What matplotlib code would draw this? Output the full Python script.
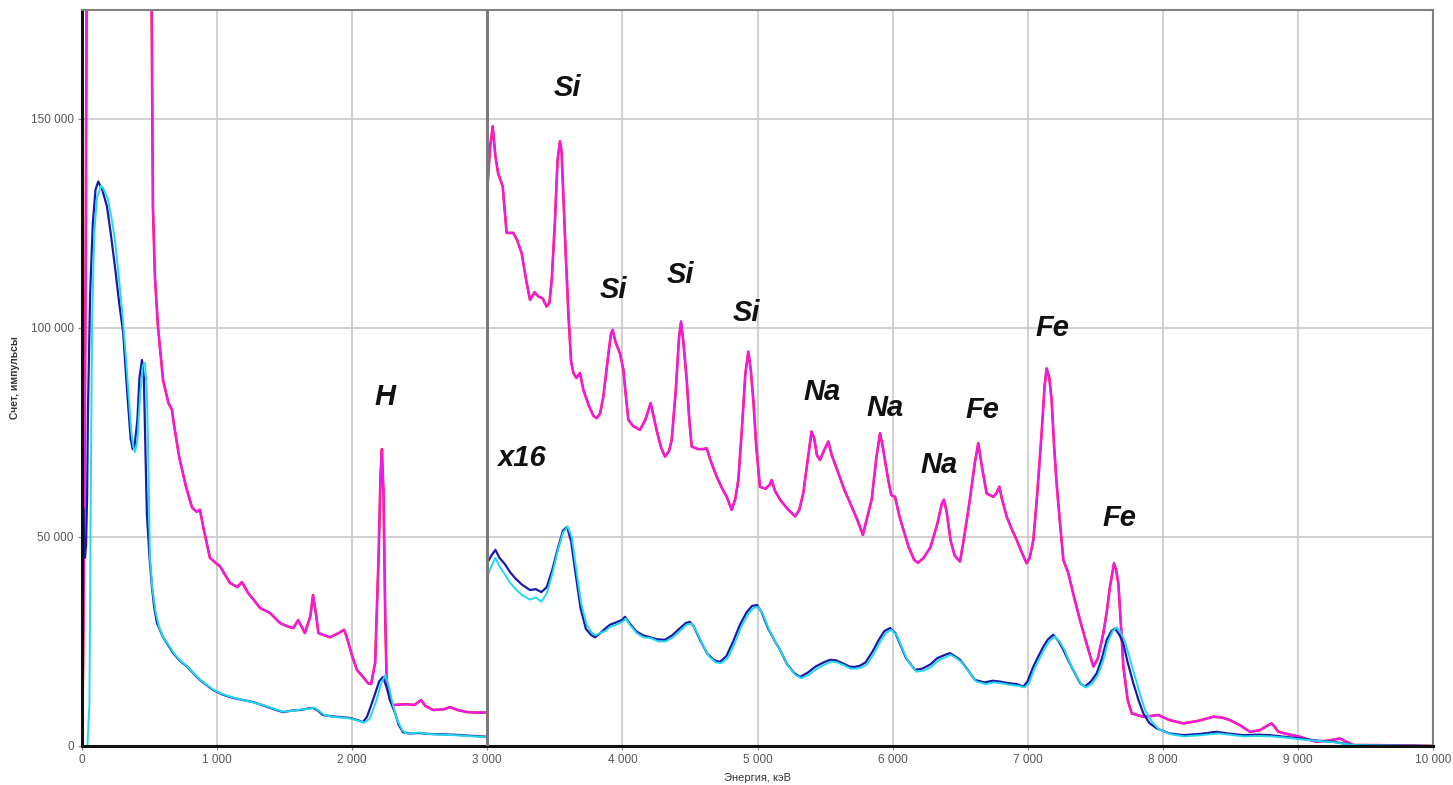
import matplotlib
matplotlib.use("Agg")
import matplotlib.pyplot as plt
from matplotlib.ticker import FixedLocator

# ---------------- data ----------------
# Low-energy part (0 - 3000 keV), true scale
magenta_lo_e = [0, 8, 18, 28, 36, 44, 505, 515, 525, 540, 563, 600, 640, 666, 680, 720, 770, 815, 850,
                873, 900, 947, 1000, 1021, 1095, 1150, 1184, 1229, 1270, 1318, 1392, 1466, 1530, 1564,
                1600, 1650, 1690, 1710, 1730, 1750, 1835, 1900, 1940, 1960, 2000, 2035, 2080, 2118, 2140,
                2170, 2195, 2210, 2220, 2232, 2245, 2255, 2280, 2300, 2400, 2460, 2510, 2540, 2600, 2680,
                2725, 2780, 2850, 2920, 3000]
magenta_lo_c = [0, 20000, 60000, 120000, 200000, 260000, 260000, 180000, 129000, 112000, 100000, 87500,
                82000, 80400, 77000, 69000, 62000, 57000, 56000, 56500, 52000, 45000, 43500, 43000, 39000,
                38000, 39200, 36600, 35000, 33000, 31800, 29400, 28500, 28200, 30100, 27000, 31000, 36100,
                32000, 27000, 26000, 27000, 27800, 26000, 21500, 18200, 16500, 15000, 14800, 20000, 45000,
                65000, 71000, 60000, 30000, 15800, 11000, 9800, 10000, 9800, 11000, 9600, 8600, 8800, 9300,
                8600, 8100, 8000, 8000]

blue_lo_e = [0, 5, 9, 14, 22, 30, 38, 44, 60, 80, 100, 120, 150, 185, 215, 244, 275, 305, 325, 345, 360,
             375, 390, 410, 425, 444, 458, 470, 480, 500, 518, 535, 555, 600, 640, 675, 720, 777, 830, 873,
             920, 970, 1040, 1118, 1190, 1266, 1350, 1420, 1488, 1560, 1614, 1680, 1710, 1740, 1784, 1850,
             1920, 1984, 2040, 2080, 2110, 2154, 2200, 2228, 2255, 2285, 2317, 2345, 2376, 2420, 2500,
             2560, 2650, 2750, 2850, 2950, 3000]
blue_lo_c = [0, 40000, 57000, 50000, 45000, 48000, 60000, 80000, 108000, 125000, 133000, 135000, 133000,
             129000, 122000, 114600, 106000, 98800, 89000, 80000, 73500, 71000, 72000, 78000, 88000, 92300,
             88000, 70000, 55700, 45000, 38000, 33000, 29400, 26000, 24000, 22200, 20500, 19000, 17200,
             15800, 14600, 13400, 12300, 11500, 11000, 10500, 9600, 8800, 8100, 8500, 8600, 9000, 9100,
             8600, 7400, 7100, 6900, 6700, 6200, 5700, 7000, 11000, 15500, 16500, 14000, 10500, 7900, 5000,
             3300, 3000, 3100, 2900, 2800, 2700, 2500, 2300, 2200]

cyan_lo_e = [0, 40, 55, 65, 74, 90, 110, 140, 155, 190, 220, 244, 270, 300, 325, 345, 365, 380, 392, 410,
             430, 450, 466, 480, 490, 503, 520, 545, 570, 600, 640, 675, 720, 777, 830, 873, 920, 970, 1040,
             1118, 1190, 1266, 1350, 1420, 1488, 1560, 1614, 1680, 1720, 1750, 1790, 1850, 1920, 1984, 2040,
             2090, 2130, 2180, 2215, 2245, 2270, 2300, 2330, 2370, 2400, 2500, 2560, 2650, 2750, 2850, 2950,
             3000]
cyan_lo_c = [0, 0, 10000, 60000, 100000, 122000, 131000, 134000, 133500, 131000, 126000, 121000, 113000,
             103000, 93000, 84000, 75000, 71500, 70300, 73000, 84000, 91000, 91600, 85000, 70000, 45000,
             38000, 32000, 28500, 26000, 24200, 22400, 20600, 19100, 17300, 15900, 14700, 13500, 12400,
             11600, 11000, 10400, 9700, 8900, 8200, 8400, 8700, 8900, 9200, 8500, 7500, 7000, 6800, 6600,
             6100, 5600, 6500, 11000, 15000, 17000, 14500, 10000, 6500, 3800, 3000, 3200, 2900, 2700, 2600,
             2400, 2200, 2100]

# High-energy part (3000 - 10000 keV), shown multiplied by 16
magenta_hi_e = [3000, 3020, 3040, 3060, 3080, 3114, 3143, 3192, 3220, 3254, 3290, 3316, 3350, 3378, 3410,
                3439, 3460, 3477, 3500, 3520, 3538, 3550, 3563, 3580, 3600, 3620, 3637, 3660, 3686, 3711,
                3750, 3785, 3810, 3835, 3859, 3890, 3915, 3928, 3950, 3982, 4007, 4025, 4044, 4080, 4130,
                4170, 4209, 4230, 4253, 4285, 4315, 4345, 4365, 4395, 4420, 4434, 4450, 4476, 4495, 4513,
                4560, 4600, 4624, 4650, 4698, 4740, 4772, 4809, 4835, 4858, 4885, 4910, 4932, 4950, 4969,
                4990, 5018, 5060, 5090, 5105, 5130, 5167, 5220, 5278, 5310, 5339, 5370, 5400, 5420, 5440,
                5463, 5490, 5524, 5550, 5598, 5640, 5685, 5740, 5780, 5845, 5880, 5907, 5930, 5968, 5990,
                6018, 6050, 6080, 6120, 6160, 6188, 6230, 6280, 6330, 6365, 6380, 6400, 6430, 6460, 6499,
                6530, 6570, 6610, 6634, 6660, 6696, 6745, 6770, 6790, 6810, 6844, 6880, 6918, 6960, 6992,
                7015, 7042, 7070, 7103, 7125, 7140, 7160, 7177, 7195, 7214, 7240, 7264, 7301, 7340, 7387,
                7440, 7486, 7520, 7560, 7585, 7609, 7639, 7655, 7671, 7690, 7708, 7740, 7770, 7856, 7920,
                7967, 8050, 8152, 8260, 8374, 8440, 8497, 8570, 8645, 8720, 8780, 8806, 8830, 8855, 8930,
                9016, 9080, 9139, 9230, 9312, 9360, 9410, 9600, 9800, 10000]
magenta_hi_c = [133000, 143000, 148200, 141000, 137000, 133800, 122700, 122700, 121000, 117900, 111000,
                106700, 108500, 107500, 107000, 105100, 106000, 111500, 125000, 140000, 144600, 142000,
                131400, 118000, 103600, 92000, 89200, 88000, 89200, 85200, 81500, 79000, 78400, 79500,
                83600, 92000, 98500, 99500, 96500, 93900, 90000, 84000, 78000, 76500, 75600, 78000, 82000,
                79000, 75600, 71500, 69200, 70500, 73200, 85000, 98000, 101500, 97000, 87600, 78000, 71600,
                71000, 71000, 71200, 68500, 64400, 61500, 59600, 56500, 59000, 63600, 76000, 89000, 94300,
                90000, 82800, 72000, 62000, 61500, 62500, 63600, 61000, 58900, 56800, 54900, 56500, 60500,
                68000, 75200, 73500, 69500, 68400, 70500, 72800, 69500, 65300, 61500, 58100, 54000, 50500,
                58900, 69000, 74800, 71000, 63600, 60000, 59600, 55000, 51700, 47500, 44500, 43800, 45000,
                47500, 53000, 58000, 58900, 56000, 49000, 45500, 44100, 50000, 58500, 68000, 72400, 67000,
                60400, 59600, 60500, 62000, 59000, 54900, 52000, 49300, 46000, 43700, 45000, 49300, 60000,
                74800, 86000, 90300, 88000, 82800, 72000, 62800, 53000, 44500, 41300, 36000, 30100, 24000,
                19000, 21000, 27000, 32000, 38100, 43700, 42000, 38900, 29000, 19000, 11000, 7800, 7000,
                7200, 7400, 6200, 5400, 6000, 7000, 6800, 6200, 5000, 3400, 3800, 5000, 5400, 4500, 3400,
                2800, 2200, 1500, 1000, 1300, 1800, 1000, 240, 200, 100, 0]

blue_hi_e = [3000, 3030, 3060, 3090, 3130, 3170, 3210, 3260, 3316, 3360, 3400, 3440, 3480, 3520, 3560, 3590,
             3620, 3650, 3690, 3730, 3770, 3797, 3830, 3870, 3908, 3950, 4000, 4019, 4050, 4100, 4150, 4204,
             4260, 4315, 4370, 4420, 4470, 4500, 4530, 4580, 4630, 4680, 4722, 4770, 4820, 4870, 4920, 4960,
             4996, 5030, 5080, 5130, 5167, 5220, 5270, 5315, 5370, 5430, 5490, 5537, 5580, 5630, 5680, 5720,
             5759, 5800, 5850, 5900, 5940, 5981, 6020, 6060, 6100, 6166, 6220, 6280, 6330, 6388, 6425, 6460,
             6499, 6550, 6610, 6680, 6740, 6795, 6860, 6920, 6968, 7000, 7042, 7080, 7116, 7150, 7190, 7230,
             7264, 7300, 7362, 7390, 7424, 7470, 7511, 7550, 7585, 7620, 7646, 7680, 7708, 7740, 7782, 7820,
             7856, 7900, 7955, 8050, 8152, 8280, 8399, 8480, 8596, 8700, 8790, 8900, 9016, 9140, 9262, 9340,
             9420, 9700, 10000]
blue_hi_c = [43800, 45500, 46900, 45000, 43500, 41500, 40000, 38500, 37300, 37500, 36800, 38000, 42000,
             47000, 51500, 52400, 49000, 42000, 33000, 28000, 26500, 26000, 26800, 28000, 29000, 29500,
             30200, 30900, 29500, 27500, 26500, 26000, 25500, 25400, 26500, 28000, 29400, 29700, 28500,
             25000, 22000, 20500, 20100, 21500, 25000, 29000, 32000, 33500, 33700, 32000, 28000, 25000,
             23000, 19500, 17500, 16500, 17500, 19000, 20000, 20600, 20500, 19800, 19000, 18900, 19200,
             20000, 22500, 25500, 27500, 28200, 27000, 24000, 21000, 18200, 18500, 19500, 21000, 21800,
             22200, 21500, 20600, 18500, 15800, 15200, 15600, 15400, 15000, 14800, 14200, 15500, 19000,
             21500, 23800, 25500, 26600, 25000, 23000, 20500, 16600, 15000, 14200, 15500, 17400, 21000,
             25400, 27500, 28100, 26500, 24500, 20000, 15000, 11000, 7800, 5500, 4200, 3000, 2600, 2900,
             3400, 3000, 2600, 2700, 2600, 2200, 1800, 1300, 1000, 600, 200, 100, 0]

cyan_hi_e = [3000, 3030, 3060, 3090, 3130, 3170, 3210, 3260, 3316, 3360, 3400, 3440, 3480, 3520, 3560, 3595,
             3625, 3655, 3695, 3735, 3775, 3800, 3835, 3875, 3910, 3955, 4005, 4025, 4055, 4105, 4155, 4210,
             4265, 4320, 4375, 4425, 4475, 4510, 4540, 4590, 4640, 4690, 4730, 4780, 4830, 4880, 4930, 4970,
             5005, 5040, 5090, 5140, 5175, 5230, 5280, 5325, 5380, 5440, 5500, 5545, 5590, 5640, 5690, 5730,
             5770, 5810, 5860, 5910, 5950, 5990, 6030, 6070, 6110, 6175, 6230, 6290, 6340, 6395, 6430, 6470,
             6505, 6560, 6620, 6690, 6750, 6805, 6870, 6930, 6975, 7010, 7050, 7090, 7125, 7160, 7200, 7240,
             7275, 7310, 7370, 7400, 7432, 7480, 7520, 7560, 7595, 7630, 7658, 7692, 7720, 7755, 7795, 7835,
             7870, 7915, 7970, 8060, 8160, 8290, 8410, 8490, 8600, 8710, 8800, 8910, 9020, 9150, 9270, 9350,
             9430, 9700, 10000]
cyan_hi_c = [40500, 43000, 45000, 43000, 41000, 39000, 37500, 36000, 35000, 35500, 34500, 36500, 41000,
             46500, 51000, 52500, 50000, 43000, 34000, 29000, 27000, 26500, 27000, 27500, 28500, 29000,
             29800, 30500, 29000, 27000, 26000, 25800, 25000, 25000, 26000, 27500, 29000, 29300, 28000,
             24500, 21500, 20000, 19800, 21000, 24500, 28500, 31500, 33000, 33200, 31500, 27500, 24500,
             22500, 19000, 17000, 16200, 17000, 18500, 19500, 20200, 20000, 19300, 18500, 18500, 18800,
             19500, 22000, 25000, 27000, 27800, 26500, 23500, 20500, 17800, 18000, 19000, 20500, 21300,
             21800, 21000, 20200, 18000, 15400, 14800, 15200, 15000, 14600, 14400, 14000, 15000, 18500,
             21000, 23300, 25000, 26200, 24800, 22800, 20000, 16200, 14700, 14000, 15000, 17000, 20500,
             25000, 27500, 28400, 27000, 25000, 21000, 16500, 12000, 8500, 6000, 4000, 2800, 2300, 2600,
             3000, 2700, 2300, 2400, 2300, 2000, 1600, 1200, 900, 500, 200, 100, 0]

# red spectrum coincides with the magenta one on the picture
red_lo_e, red_lo_c = magenta_lo_e, magenta_lo_c
red_hi_e, red_hi_c = magenta_hi_e, magenta_hi_c

x_ticks = [0, 1000, 2000, 3000, 4000, 5000, 6000, 7000, 8000, 9000, 10000]
x_tick_labels = ["0", "1 000", "2 000", "3 000", "4 000", "5 000", "6 000", "7 000", "8 000", "9 000", "10 000"]
y_ticks = [0, 50000, 100000, 150000]
y_tick_labels = ["0", "50 000", "100 000", "150 000"]

peak_labels = ["H", "x16", "Si", "Si", "Si", "Si", "Na", "Na", "Na", "Fe", "Fe", "Fe"]
peak_label_x = [2243, 3257, 3590, 3930, 4426, 4915, 5477, 5944, 6343, 6662, 7180, 7683]
peak_label_y = [83500, 68900, 157400, 109100, 112700, 103600, 84700, 80900, 67200, 80400, 100000, 54500]

# ---------------- drawing ----------------
plt.rcParams['font.family'] = ['Liberation Sans', 'DejaVu Sans']
fig = plt.figure(figsize=(14.53, 7.85), dpi=100)
ax = fig.add_axes([82 / 1453, 1 - 746 / 785, (1433 - 82) / 1453, (746 - 10) / 785])

ax.set_xlim(0, 10000)
ax.set_ylim(0, 176000)

ax.xaxis.set_major_locator(FixedLocator(x_ticks))
ax.set_xticklabels(x_tick_labels)
ax.yaxis.set_major_locator(FixedLocator(y_ticks))
ax.set_yticklabels(y_tick_labels)
ax.grid(True, color="#c8c8c8", linewidth=1.2)
ax.set_axisbelow(True)
ax.tick_params(axis="both", length=3, width=0.8, color="#888888", labelsize=8.5,
               labelcolor="#555555", pad=3)

lw = 1.4
col_red, col_mag, col_blue, col_cyan = "#ff1a3c", "#f01af0", "#1a1aa8", "#22d8ee"
for e, c in [(red_lo_e, red_lo_c), (red_hi_e, red_hi_c)]:
    ax.plot(e, c, color=col_red, lw=lw + 0.5, solid_joinstyle="round")
for e, c in [(magenta_lo_e, magenta_lo_c), (magenta_hi_e, magenta_hi_c)]:
    ax.plot(e, c, color=col_mag, lw=lw, solid_joinstyle="round")
for e, c in [(blue_lo_e, blue_lo_c), (blue_hi_e, blue_hi_c)]:
    ax.plot(e, c, color=col_blue, lw=lw + 0.2, solid_joinstyle="round")
for e, c in [(cyan_lo_e, cyan_lo_c), (cyan_hi_e, cyan_hi_c)]:
    ax.plot(e, c, color=col_cyan, lw=lw, solid_joinstyle="round")

ax.axvline(3000, color="#7a7a7a", lw=2.2, zorder=5)

for s in ("top", "right"):
    ax.spines[s].set_color("#808080")
    ax.spines[s].set_linewidth(1.5)
for s in ("left", "bottom"):
    ax.spines[s].set_color("#111111")
    ax.spines[s].set_linewidth(2.2)

for t, x, y in zip(peak_labels, peak_label_x, peak_label_y):
    ax.text(x, y, t, ha="center", va="center", fontsize=21, fontweight="bold",
            fontstyle="italic", color="#111111", zorder=6)

fig.text(15 / 1453, 1 - 378 / 785, "Счет, импульсы", rotation=90, ha="center", va="center",
         fontsize=7.5, fontweight="bold", color="#333333")
fig.text(757 / 1453, 1 - 778 / 785, "Энергия, кэВ", ha="center", va="center",
         fontsize=8, color="#333333")

fig.savefig("out.png", dpi=100)
